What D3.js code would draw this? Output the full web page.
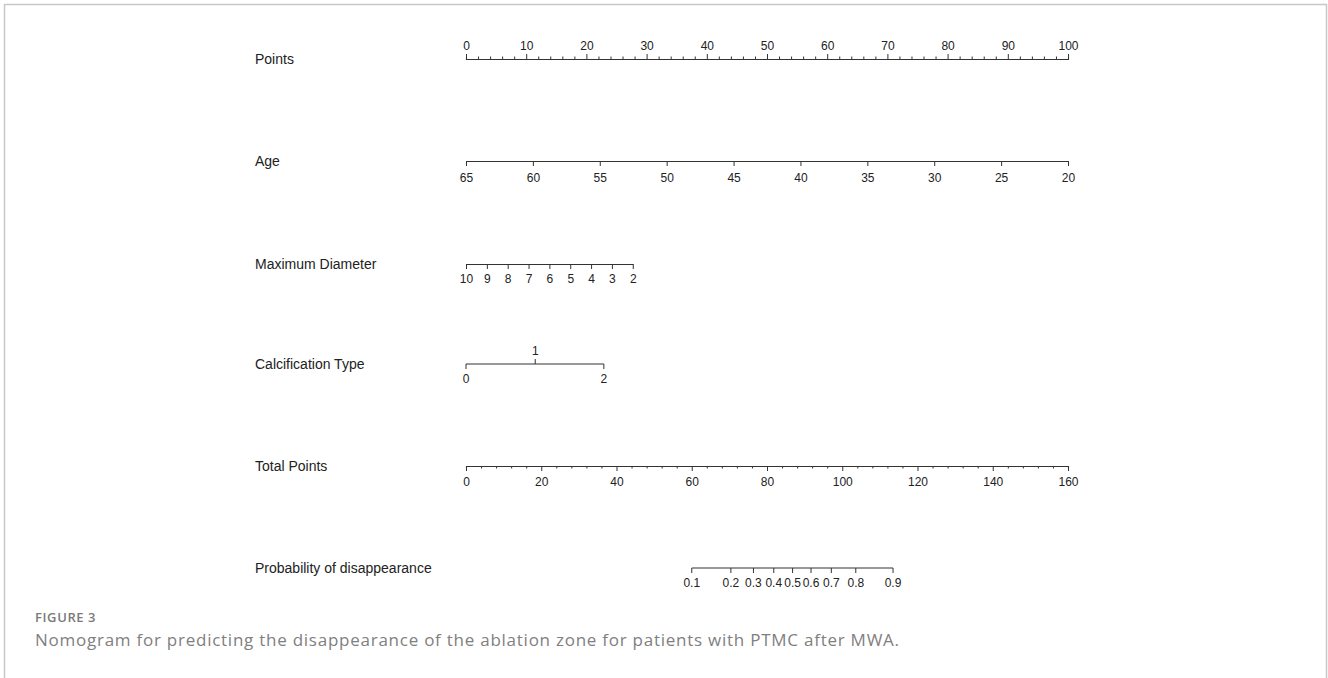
<!DOCTYPE html>
<html>
<head>
<meta charset="utf-8">
<script src="https://cdn.jsdelivr.net/npm/d3@7"></script>
<style>
  body { margin: 0; background: #fff; }
  svg text { font-family: "Liberation Sans", Arial, sans-serif; }
</style>
</head>
<body>
<svg id="chart"></svg>
<script>
// ---------------- data ----------------
var rowLabels = ["Points", "Age", "Maximum Diameter", "Calcification Type", "Total Points", "Probability of disappearance"];

var pointsMajor = [0, 10, 20, 30, 40, 50, 60, 70, 80, 90, 100];
var pointsMinor = [2, 4, 6, 8, 12, 14, 16, 18, 22, 24, 26, 28, 32, 34, 36, 38, 42, 44, 46, 48,
                   52, 54, 56, 58, 62, 64, 66, 68, 72, 74, 76, 78, 82, 84, 86, 88, 92, 94, 96, 98];

var ageValues = [65, 60, 55, 50, 45, 40, 35, 30, 25, 20];
var ageRange = [0, 100];              // points for age 65 and age 20

var diamValues = [10, 9, 8, 7, 6, 5, 4, 3, 2];
var diamRange = [0, 27.7];            // points for 10 and 2

var calcValues = [0, 1, 2];
var calcPoints = [0, 11.5, 22.9];

var totalMajor = [0, 20, 40, 60, 80, 100, 120, 140, 160];
var totalMinor = [4, 8, 12, 16, 24, 28, 32, 36, 44, 48, 52, 56, 64, 68, 72, 76,
                  84, 88, 92, 96, 104, 108, 112, 116, 124, 128, 132, 136, 144, 148, 152, 156];

var probLabels = ["0.1", "0.2", "0.3", "0.4", "0.5", "0.6", "0.7", "0.8", "0.9"];
var probTotals = [60, 70.4, 76.4, 81.8, 86.8, 91.7, 97.1, 103.6, 113.5];

// ---------------- settings ----------------
var width = 1328, height = 678,
    axisX0 = 466, axisX1 = 1068,
    labelX = 255,
    rowY = [59, 161, 264, 364, 466, 568],
    lineColor = "#333",
    tickFont = 12;

var svg = d3.select("#chart").attr("width", width).attr("height", height);

// frame
svg.append("path")
  .attr("d", "M4.5,678 L4.5,4.5 L1326.5,4.5 L1326.5,678")
  .attr("fill", "none").attr("stroke", "#c8c8c8").attr("stroke-width", 1.5);

// scales
var xPoints = d3.scaleLinear().domain([0, 100]).range([axisX0, axisX1]);
var xTotal = d3.scaleLinear().domain([0, 160]).range([axisX0, axisX1]);
var xAge = d3.scaleLinear().domain([65, 20]).range(ageRange.map(xPoints));
var xDiam = d3.scaleLinear().domain([10, 2]).range(diamRange.map(xPoints));
var xCalc = d3.scaleOrdinal().domain(calcValues).range(calcPoints.map(xPoints));
var xProb = d3.scaleOrdinal().domain(probLabels).range(probTotals.map(xTotal));

function styleAxis(g) {
  g.select(".domain").attr("stroke", lineColor).attr("stroke-width", 1.1);
  g.selectAll(".tick line").attr("stroke", lineColor).attr("stroke-width", 1);
  g.selectAll(".tick text")
    .attr("fill", "#222")
    .style("font-size", tickFont + "px")
    .style("font-family", "'Liberation Sans', Arial, sans-serif");
}

// row labels
svg.selectAll("text.rowlabel")
  .data(rowLabels)
  .enter().append("text")
  .attr("class", "rowlabel")
  .attr("x", labelX)
  .attr("y", function(d, i) { return rowY[i] + 5; })
  .attr("fill", "#222")
  .style("font-size", "14px")
  .text(function(d) { return d; });

// Points
var gp = svg.append("g").attr("transform", "translate(0," + rowY[0] + ")");
gp.append("g").call(d3.axisTop(xPoints).tickValues(pointsMinor).tickSize(2.5).tickFormat(""))
  .call(styleAxis);
gp.append("g").call(d3.axisTop(xPoints).tickValues(pointsMajor).tickSize(5).tickSizeOuter(0).tickPadding(4))
  .call(styleAxis);

// Age
svg.append("g").attr("transform", "translate(0," + rowY[1] + ")")
  .call(d3.axisBottom(xAge).tickValues(ageValues).tickSize(5).tickSizeOuter(0).tickPadding(7))
  .call(styleAxis);

// Maximum Diameter
svg.append("g").attr("transform", "translate(0," + rowY[2] + ")")
  .call(d3.axisBottom(xDiam).tickValues(diamValues).tickSize(5).tickSizeOuter(0).tickPadding(5))
  .call(styleAxis);

// Calcification Type: 0 and 2 below, 1 above
var gc = svg.append("g").attr("transform", "translate(0," + rowY[3] + ")");
gc.append("line")
  .attr("x1", xCalc(0)).attr("x2", xCalc(2))
  .attr("stroke", lineColor).attr("stroke-width", 1.1);
var calcTicks = gc.selectAll("g.ctick")
  .data(calcValues)
  .enter().append("g")
  .attr("class", "ctick")
  .attr("transform", function(d) { return "translate(" + xCalc(d) + ",0)"; });
calcTicks.append("line")
  .attr("y2", function(d) { return d === 1 ? -5 : 5; })
  .attr("stroke", lineColor);
calcTicks.append("text")
  .attr("y", function(d) { return d === 1 ? -9 : 19; })
  .attr("text-anchor", "middle")
  .attr("fill", "#222")
  .style("font-size", tickFont + "px")
  .text(function(d) { return d; });

// Total Points
var gt = svg.append("g").attr("transform", "translate(0," + rowY[4] + ")");
gt.append("g").call(d3.axisBottom(xTotal).tickValues(totalMinor).tickSize(2.5).tickFormat(""))
  .call(styleAxis);
gt.append("g").call(d3.axisBottom(xTotal).tickValues(totalMajor).tickSize(5).tickSizeOuter(0).tickPadding(6))
  .call(styleAxis);

// Probability of disappearance
var gpr = svg.append("g").attr("transform", "translate(0," + rowY[5] + ")");
gpr.append("line")
  .attr("x1", xProb(probLabels[0])).attr("x2", xProb(probLabels[probLabels.length - 1]))
  .attr("stroke", lineColor).attr("stroke-width", 1.1);
var probTicks = gpr.selectAll("g.ptick")
  .data(probLabels)
  .enter().append("g")
  .attr("class", "ptick")
  .attr("transform", function(d) { return "translate(" + xProb(d) + ",0)"; });
probTicks.append("line").attr("y2", 5).attr("stroke", lineColor);
probTicks.append("text")
  .attr("y", 19)
  .attr("text-anchor", "middle")
  .attr("fill", "#222")
  .style("font-size", tickFont + "px")
  .text(function(d) { return d; });

// caption
svg.append("text")
  .attr("x", 35).attr("y", 622)
  .attr("fill", "#7a7a7a")
  .style("font-family", "'Open Sans', sans-serif")
  .style("font-size", "13px")
  .style("font-weight", "600")
  .style("letter-spacing", "0.6px")
  .text("FIGURE 3");
svg.append("text")
  .attr("x", 35).attr("y", 646)
  .attr("fill", "#808080")
  .style("font-family", "'Open Sans', sans-serif")
  .style("font-size", "17px")
  .style("letter-spacing", "0.75px")
  .text("Nomogram for predicting the disappearance of the ablation zone for patients with PTMC after MWA.");
</script>
</body>
</html>
